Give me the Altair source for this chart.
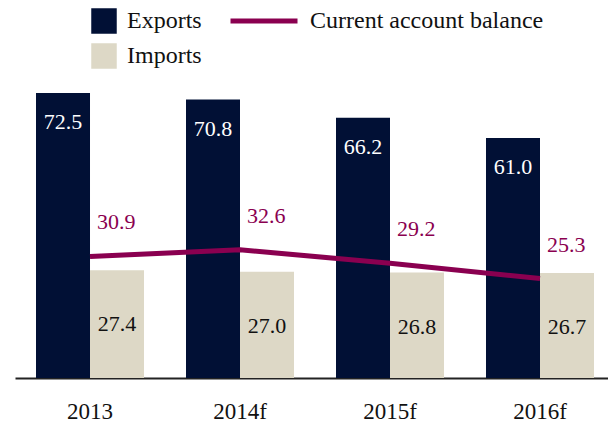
import altair as alt
import pandas as pd

years = ["2013", "2014f", "2015f", "2016f"]
exports = [72.5, 70.8, 66.2, 61.0]
imports = [27.4, 27.0, 26.8, 26.7]
current_account = [30.9, 32.6, 29.2, 25.3]

series_names = ["Exports", "Imports"]
line_name = "Current account balance"

NAVY = "#011035"
BEIGE = "#ddd8c6"
MAROON = "#8a0050"
FONT = "Liberation Serif"

bars = pd.DataFrame(
    [{"year": y, "series": "Exports", "value": v} for y, v in zip(years, exports)]
    + [{"year": y, "series": "Imports", "value": v} for y, v in zip(years, imports)]
)
line = pd.DataFrame({"year": years, "value": current_account, "name": line_name})

x_axis = alt.Axis(
    title=None, labelAngle=0, ticks=False, domainColor="#222222", domainWidth=2,
    labelFont=FONT, labelFontSize=23, labelColor="#111111", labelPadding=22,
)
x_enc = alt.X("year:N", sort=years, axis=x_axis,
              scale=alt.Scale(paddingInner=0.28, paddingOuter=0.1167, align=0.6))
y_scale = alt.Scale(domain=[0, 74])
xoff = alt.XOffset("series:N", sort=series_names,
                   scale=alt.Scale(paddingInner=0, paddingOuter=0))

bar_layer = alt.Chart(bars).mark_bar().encode(
    x=x_enc,
    xOffset=xoff,
    y=alt.Y("value:Q", scale=y_scale, axis=None),
    fill=alt.Fill("series:N", sort=series_names,
                  scale=alt.Scale(domain=series_names, range=[NAVY, BEIGE]),
                  legend=alt.Legend(title=None, orient="none", legendX=76, legendY=-79,
                                    direction="vertical", symbolType="square",
                                    symbolSize=650, symbolStrokeWidth=0,
                                    labelFont=FONT, labelFontSize=24, labelColor="#111111",
                                    labelOffset=10, rowPadding=9, padding=0, labelLimit=400)),
)

exp_text = alt.Chart(bars).transform_filter(alt.datum.series == "Exports").mark_text(
    font=FONT, fontSize=22, color="white", baseline="middle", dy=29
).encode(
    x=x_enc, xOffset=xoff,
    y=alt.Y("value:Q", scale=y_scale, axis=None),
    text=alt.Text("value:Q", format=".1f"),
)

imp_text = alt.Chart(bars).transform_filter(alt.datum.series == "Imports").mark_text(
    font=FONT, fontSize=22, color="#111111", baseline="middle", dy=54
).encode(
    x=x_enc, xOffset=xoff,
    y=alt.Y("value:Q", scale=y_scale, axis=None),
    text=alt.Text("value:Q", format=".1f"),
)

line_layer = alt.Chart(line).mark_line(strokeWidth=5).encode(
    x=x_enc,
    y=alt.Y("value:Q", scale=y_scale, axis=None),
    stroke=alt.Stroke("name:N",
                      scale=alt.Scale(domain=[line_name], range=[MAROON]),
                      legend=alt.Legend(title=None, orient="none", legendX=213, legendY=-102,
                                        symbolType="stroke", symbolSize=4489,
                                        symbolStrokeWidth=5,
                                        labelFont=FONT, labelFontSize=24, labelColor="#111111",
                                        labelOffset=10, padding=0, labelLimit=400)),
)

line_text = alt.Chart(line).mark_text(
    font=FONT, fontSize=22, color=MAROON, align="left", baseline="middle", dx=7, dy=-34
).encode(
    x=x_enc,
    y=alt.Y("value:Q", scale=y_scale, axis=None),
    text=alt.Text("value:Q", format=".1f"),
)

chart = alt.layer(bar_layer, exp_text, imp_text, line_layer, line_text).resolve_scale(
    color="independent"
).properties(
    width=593, height=291,
    autosize=alt.AutoSizeParams(type="none"),
    padding={"left": 7, "top": 79, "right": 0, "bottom": 48},
).configure_view(stroke=None)

chart.save("out.html", embed_options={"renderer": "svg", "actions": False})
